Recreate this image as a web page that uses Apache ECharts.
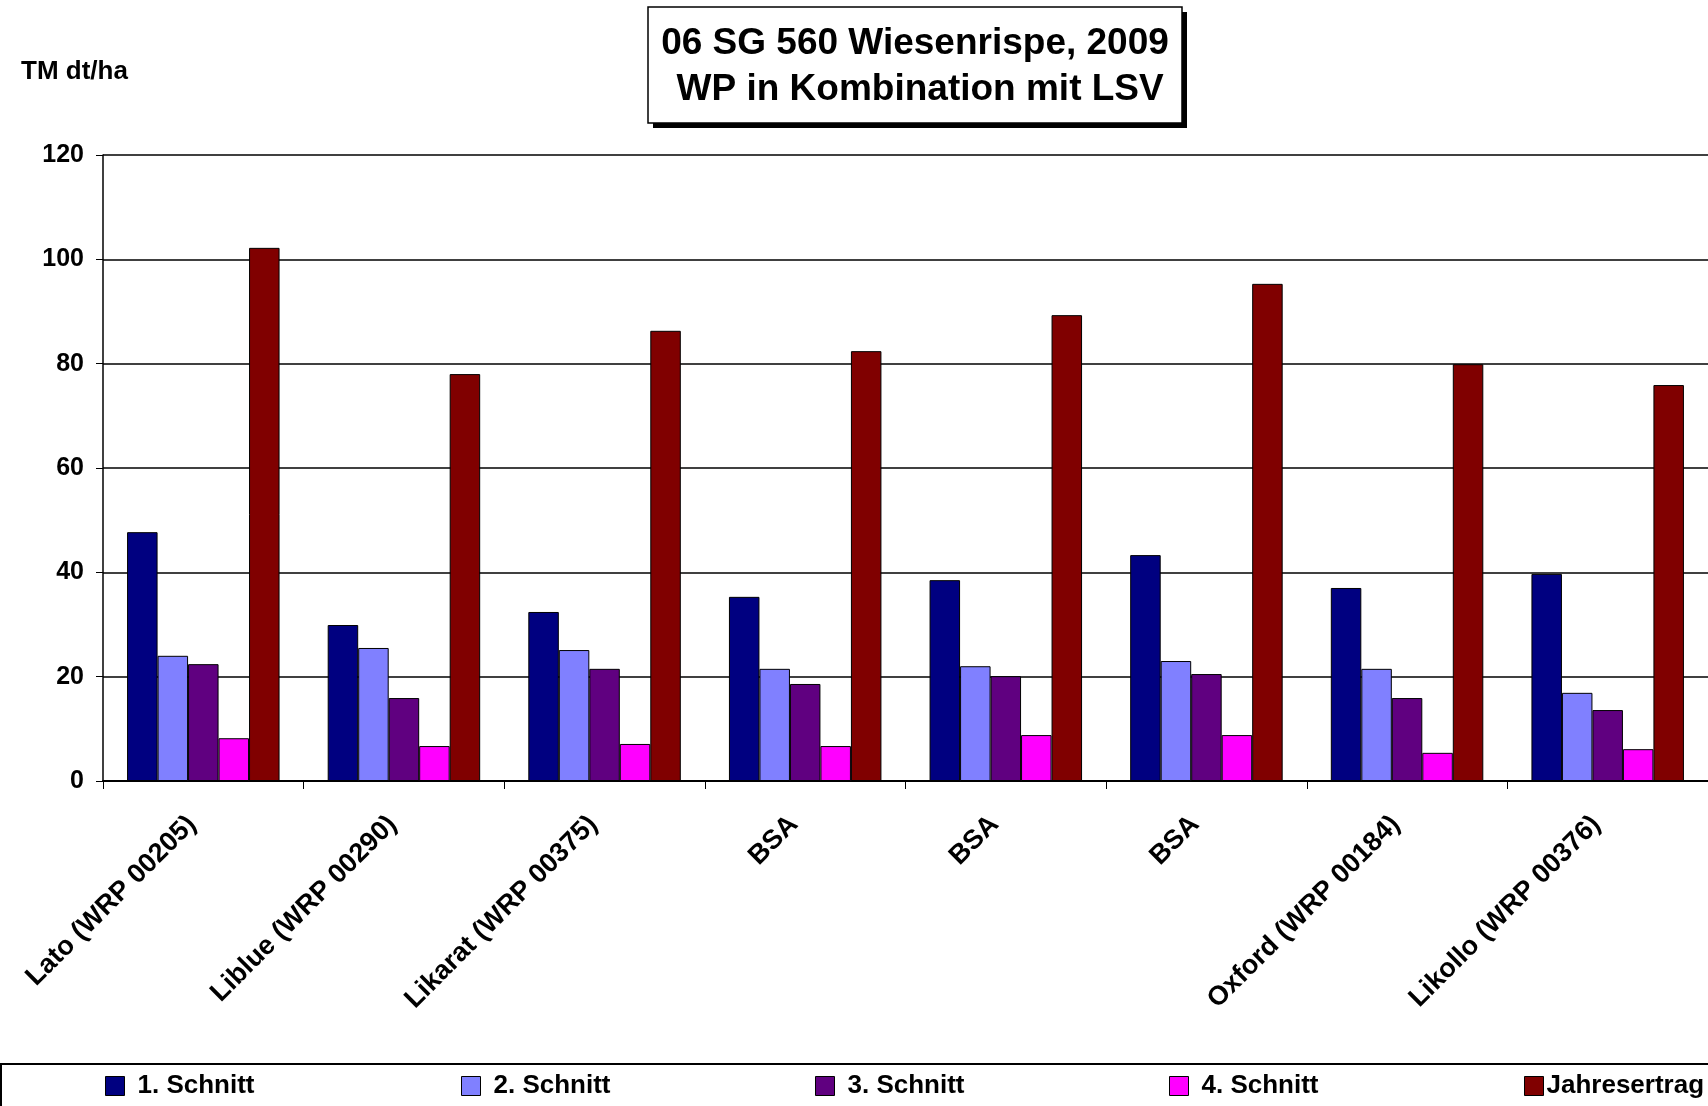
<!DOCTYPE html>
<html>
<head>
<meta charset="utf-8">
<script src="https://cdn.jsdelivr.net/npm/echarts@6/dist/echarts.min.js"></script>
<style>
html,body{margin:0;padding:0;background:#fff;}
#chart{width:1708px;height:1106px;}
</style>
</head>
<body>
<div id="chart"></div>
<script>
const categories = ['Lato (WRP 00205)', 'Liblue (WRP 00290)', 'Likarat (WRP 00375)', 'BSA', 'BSA', 'BSA', 'Oxford (WRP 00184)', 'Likollo (WRP 00376)'];
const seriesNames = ['1. Schnitt', '2. Schnitt', '3. Schnitt', '4. Schnitt', 'Jahresertrag'];
const schnitt1 = [47.7, 29.9, 32.4, 35.3, 38.5, 43.3, 37.0, 39.7];
const schnitt2 = [24.0, 25.5, 25.1, 21.5, 22.0, 23.0, 21.5, 16.9];
const schnitt3 = [22.4, 15.9, 21.5, 18.6, 20.1, 20.5, 15.9, 13.6];
const schnitt4 = [8.2, 6.7, 7.1, 6.7, 8.8, 8.8, 5.4, 6.1];
const jahresertrag = [102.2, 78.0, 86.3, 82.4, 89.3, 95.3, 79.9, 75.9];
const yTicks = [0, 20, 40, 60, 80, 100, 120];
const colors = ['#000080', '#8080FF', '#600080', '#FF00FF', '#800000'];
const titleLines = ['06 SG 560 Wiesenrispe, 2009', ' WP in Kombination mit LSV'];
const yUnit = 'TM dt/ha';

const FONT = '"Liberation Sans", Arial, sans-serif';
const values = [schnitt1, schnitt2, schnitt3, schnitt4, jahresertrag];
const legendLeft = [105, 461, 815, 1169, 1524];

const chart = echarts.init(document.getElementById('chart'), null, {renderer: 'canvas'});
const option = {
  animation: false,
  backgroundColor: '#fff',
  color: colors,
  textStyle: {fontFamily: FONT},
  title: [{
    text: yUnit, left: 16, top: 54,
    textStyle: {fontFamily: FONT, fontWeight: 'bold', fontSize: 26, color: '#000'}
  }],
  graphic: [
    {type: 'rect', shape: {x: 653, y: 12, width: 534, height: 116}, style: {fill: '#000'}, z: 10},
    {type: 'rect', shape: {x: 648, y: 7, width: 534, height: 116}, style: {fill: '#fff', stroke: '#000', lineWidth: 1.5}, z: 11},
    {type: 'text', x: 915, y: 67, z: 12, style: {
      text: titleLines.join('\n'), fill: '#000', font: 'bold 37px ' + FONT,
      align: 'center', verticalAlign: 'middle', lineHeight: 46
    }},
    {type: 'rect', shape: {x: 1, y: 1064, width: 1720, height: 80}, style: {fill: 'none', stroke: '#000', lineWidth: 2}, z: 5}
  ],
  legend: seriesNames.map((n, i) => ({
    data: [n], left: legendLeft[i], top: 1073,
    itemWidth: 19, itemHeight: 19, padding: 0,
    icon: 'rect',
    itemStyle: {borderColor: '#000', borderWidth: 1},
    textStyle: {fontFamily: FONT, fontWeight: 'bold', fontSize: 26, color: '#000', padding: i < 4 ? [0, 0, 0, 8] : [0, 0, 0, -2]}
  })),
  grid: {left: 103, right: -3, top: 155, bottom: 325, containLabel: false},
  xAxis: {
    type: 'category', data: categories,
    axisLine: {lineStyle: {color: '#000', width: 2}},
    axisTick: {show: true, length: 8, lineStyle: {color: '#000', width: 1}},
    axisLabel: {interval: 0, rotate: 45, margin: 28, padding: [0, 16, 0, 0], fontFamily: FONT, fontWeight: 'bold', fontSize: 27, color: '#000'},
    splitLine: {show: false}
  },
  yAxis: {
    type: 'value', min: 0, max: 120, interval: 20,
    axisLine: {show: true, lineStyle: {color: '#000', width: 1.5}},
    axisTick: {show: true, length: 7, lineStyle: {color: '#000'}},
    axisLabel: {margin: 19, fontFamily: FONT, fontWeight: 'bold', fontSize: 25, color: '#000',
      formatter: v => yTicks.includes(v) ? String(v) : ''},
    splitLine: {show: true, lineStyle: {color: '#000', width: 1.5}}
  },
  series: seriesNames.map((n, i) => ({
    name: n, type: 'bar', data: values[i],
    barGap: '0%', barCategoryGap: '24%',
    itemStyle: {color: colors[i], borderColor: '#000', borderWidth: 1}
  }))
};
chart.setOption(option);
</script>
</body>
</html>
